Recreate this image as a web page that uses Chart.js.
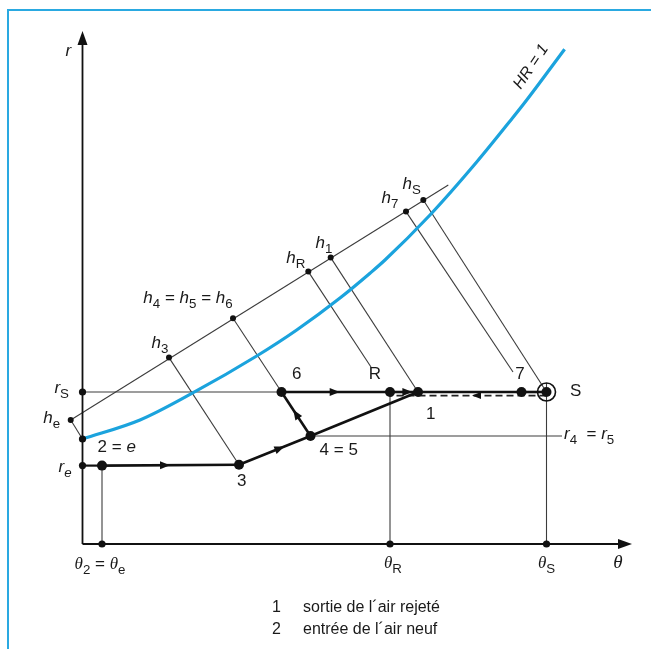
<!DOCTYPE html>
<html>
<head>
<meta charset="utf-8">
<script src="https://cdn.jsdelivr.net/npm/chart.js@4.4.1/dist/chart.umd.min.js"></script>
<style>
  html, body { margin: 0; padding: 0; background: #fff; }
  #wrap { position: relative; width: 651px; height: 649px; overflow: hidden; }
  #frame { position: absolute; left: 7px; top: 9px; width: 700px; height: 700px;
           border-top: 2px solid #2aa9e1; border-left: 2px solid #2aa9e1; }
  canvas { position: absolute; left: 0; top: 0; }
  .note { position: absolute; left: 272px; font: 16px "Liberation Sans", Arial, sans-serif;
          color: #1a1a1a; line-height: 20px; white-space: pre; }
  .note b { font-weight: normal; display: inline-block; width: 31px; }
</style>
</head>
<body>
<div id="wrap">
  <div id="frame"></div>
  <canvas id="diagram" width="651" height="649"></canvas>
  <div class="note" style="top:597px"><b>1</b>sortie de l´air rejeté</div>
  <div class="note" style="top:619px"><b>2</b>entrée de l´air neuf</div>
</div>
<script>
// axis extents (θ horizontal, r vertical)
const thetaMax = 54.95;
const rMax = 25.65;

// process states: e (inlet), 3, 4 = 5, 6, R, 1, 7, S
const stateTheta = [1.95, 15.65, 22.8, 19.9, 30.75, 33.55, 43.9, 46.4];
const stateR = [3.92, 3.96, 5.4, 7.6, 7.6, 7.6, 7.6, 7.6];
const pathPairs = [[0, 1], [1, 2], [2, 3], [3, 4], [4, 5], [5, 6], [6, 7], [2, 5]];
// arrow heads: from state, to state, position along the segment
const pathArrows = [[0, 1, 0.46], [1, 2, 0.57], [2, 3, 0.5], [3, 4, 0.49], [4, 5, 0.62]];

// dashed return line S -> R
const returnR = 7.42;
const returnArrowTheta = 39.4;

// enthalpy scale marks h_e, h_3, h_4, h_R, h_1, h_7, h_S
const hTheta = [-1.18, 8.65, 15.05, 22.58, 24.82, 32.35, 34.08];
const hR = [6.2, 9.32, 11.29, 13.62, 14.32, 16.62, 17.2];
const hScaleEnd = [36.58, 17.95];
// lower end of each isenthalp
const isoTheta = [0, 15.65, 22.8, 28.85, 33.55, 43.05, 46.4];
const isoR = [5.25, 3.96, 5.4, 8.85, 7.6, 8.6, 7.6];

// saturation curve HR = 1
const satTheta = [0, 5.75, 10.98, 17.42, 21.42, 25.75, 28.75, 30.25, 34.75, 39.42, 43.0, 44.42, 48.21];
const satR = [5.25, 6.2, 7.54, 9.4, 10.7, 12.3, 13.54, 14.2, 16.45, 19.1, 21.3, 22.2, 24.74];

// ticks on the axes
const rTicks = [7.6, 5.25, 3.92];        // r_S, 2 = e, r_e
const thetaTicks = [1.95, 30.75, 46.4];  // θ_e, θ_R, θ_S
const thetaDropTop = [3.92, 7.6, 8.05];
const r4LineEnd = 47.95;

const INK = '#111';
const THIN = '#3c3c3c';
const BLUE = '#1ba3dd';
const SANS = '"Liberation Sans", Arial, sans-serif';
const SERIF = '"Liberation Serif", "Times New Roman", serif';

const pt = (t, r) => ({ x: t, y: r });
const state = i => pt(stateTheta[i], stateR[i]);

function lineSet(points, width, color, extra) {
  return Object.assign({
    type: 'line', data: points, borderColor: color, borderWidth: width,
    pointRadius: 0, fill: false, tension: 0, clip: false
  }, extra || {});
}

// labels: text runs [text, style] with i = italic, s = subscript, g = serif
const labels = [
  { runs: [['r', 'i']], t: -1.42, r: 24.7 },
  { runs: [['θ', 'gi']], t: 53.55, r: -0.85, size: 19 },
  { runs: [['HR = 1', 'i']], t: 44.75, r: 23.9, rot: -56, size: 16 },
  { runs: [['h', 'i'], ['S', 's']], t: 32.92, r: 18.04 },
  { runs: [['h', 'i'], ['7', 's']], t: 30.75, r: 17.37 },
  { runs: [['h', 'i'], ['1', 's']], t: 24.15, r: 15.12 },
  { runs: [['h', 'i'], ['R', 's']], t: 21.32, r: 14.37 },
  { runs: [['h', 'i'], ['4', 's'], [' = ', ''], ['h', 'i'], ['5', 's'], [' = ', ''], ['h', 'i'], ['6', 's']], t: 10.55, r: 12.37 },
  { runs: [['h', 'i'], ['3', 's']], t: 7.75, r: 10.12 },
  { runs: [['h', 'i'], ['e', 's']], t: -3.08, r: 6.37 },
  { runs: [['r', 'i'], ['S', 's']], t: -2.08, r: 7.87 },
  { runs: [['2 = ', ''], ['e', 'i']], t: 3.42, r: 4.9 },
  { runs: [['r', 'i'], ['e', 'si']], t: -1.75, r: 3.9 },
  { runs: [['3', '']], t: 15.92, r: 3.2 },
  { runs: [['4 = 5', '']], t: 25.62, r: 4.75 },
  { runs: [['6', '']], t: 21.42, r: 8.54 },
  { runs: [['R', '']], t: 29.25, r: 8.54 },
  { runs: [['1', '']], t: 34.82, r: 6.57 },
  { runs: [['7', '']], t: 43.75, r: 8.54 },
  { runs: [['S', '']], t: 49.32, r: 7.7 },
  { runs: [['r', 'i'], ['4', 's'], ['  = ', ''], ['r', 'i'], ['5', 's']], t: 48.15, r: 5.55, align: 'left' },
  { runs: [['θ', 'gi'], ['2', 's'], [' = ', ''], ['θ', 'gi'], ['e', 's']], t: 1.75, r: -0.94 },
  { runs: [['θ', 'gi'], ['R', 's']], t: 31.05, r: -0.9 },
  { runs: [['θ', 'gi'], ['S', 's']], t: 46.41, r: -0.9 }
];

function runFont(style, size) {
  const sub = style.includes('s');
  const sz = sub ? size * 0.78 : size;
  const fam = style.includes('g') ? SERIF : SANS;
  return (style.includes('i') ? 'italic ' : '') + sz.toFixed(1) + 'px ' + fam;
}

function drawRuns(ctx, runs, cx, cy, size, align) {
  const widths = runs.map(([txt, st]) => { ctx.font = runFont(st, size); return ctx.measureText(txt).width; });
  const total = widths.reduce((a, b) => a + b, 0);
  let xx = align === 'left' ? cx : cx - total / 2;
  const base = cy + size * 0.36;
  ctx.textAlign = 'left';
  ctx.textBaseline = 'alphabetic';
  runs.forEach(([txt, st], k) => {
    ctx.font = runFont(st, size);
    ctx.fillText(txt, xx, st.includes('s') ? base + size * 0.3 : base);
    xx += widths[k];
  });
}

function arrowHead(ctx, x, y, ang, len, half) {
  ctx.save();
  ctx.translate(x, y);
  ctx.rotate(ang);
  ctx.beginPath();
  ctx.moveTo(len / 2, 0);
  ctx.lineTo(-len / 2, -half);
  ctx.lineTo(-len / 2, half);
  ctx.closePath();
  ctx.fill();
  ctx.restore();
}

const sketch = {
  id: 'sketch',
  afterDatasetsDraw(chart) {
    const { ctx, scales: { x, y } } = chart;
    const px = t => x.getPixelForValue(t);
    const py = r => y.getPixelForValue(r);
    ctx.save();
    ctx.fillStyle = INK;

    // axis arrow tips
    arrowHead(ctx, px(0), py(rMax) + 7, -Math.PI / 2, 14, 5);
    arrowHead(ctx, px(thetaMax) - 7, py(0), 0, 14, 5);

    // flow direction along the process path
    pathArrows.forEach(([a, b, f]) => {
      const x0 = px(stateTheta[a]), y0 = py(stateR[a]);
      const x1 = px(stateTheta[b]), y1 = py(stateR[b]);
      arrowHead(ctx, x0 + (x1 - x0) * f, y0 + (y1 - y0) * f, Math.atan2(y1 - y0, x1 - x0), 10, 4);
    });
    arrowHead(ctx, px(returnArrowTheta), py(returnR), Math.PI, 9, 3.5);

    // ring round the supply state
    ctx.strokeStyle = INK;
    ctx.lineWidth = 1.6;
    ctx.beginPath();
    ctx.arc(px(stateTheta[7]), py(stateR[7]), 9, 0, Math.PI * 2);
    ctx.stroke();

    ctx.fillStyle = '#1a1a1a';
    labels.forEach(l => {
      const size = l.size || 17;
      const cx = px(l.t), cy = py(l.r);
      if (l.rot) {
        ctx.save();
        ctx.translate(cx, cy);
        ctx.rotate(l.rot * Math.PI / 180);
        drawRuns(ctx, l.runs, 0, 0, size, 'center');
        ctx.restore();
      } else {
        drawRuns(ctx, l.runs, cx, cy, size, l.align);
      }
    });
    ctx.restore();
  }
};

const datasets = [];

// dots (first dataset is drawn on top)
datasets.push({
  type: 'scatter', clip: false,
  data: stateTheta.map((t, i) => pt(t, stateR[i])),
  pointRadius: 5, pointBackgroundColor: INK, pointBorderWidth: 0
});
datasets.push({
  type: 'scatter', clip: false,
  data: hTheta.map((t, i) => pt(t, hR[i])),
  pointRadius: 3, pointBackgroundColor: INK, pointBorderWidth: 0
});
datasets.push({
  type: 'scatter', clip: false,
  data: rTicks.map(r => pt(0, r)).concat(thetaTicks.map(t => pt(t, 0))),
  pointRadius: 3.6, pointBackgroundColor: INK, pointBorderWidth: 0
});

// process path
pathPairs.forEach(([a, b]) => datasets.push(lineSet([state(a), state(b)], 2.6, INK)));
datasets.push(lineSet([pt(0, stateR[0]), state(0)], 2.2, INK));
datasets.push(lineSet([pt(stateTheta[7], returnR), pt(stateTheta[4], returnR)], 1.6, '#222', { borderDash: [7, 4] }));

// saturation curve
datasets.push(lineSet(satTheta.map((t, i) => pt(t, satR[i])), 3.2, BLUE, { cubicInterpolationMode: 'monotone' }));

// axes
datasets.push(lineSet([pt(0, 0), pt(0, rMax - 0.5)], 1.8, INK));
datasets.push(lineSet([pt(0, 0), pt(thetaMax - 1, 0)], 1.8, INK));

// construction lines
datasets.push(lineSet([pt(hTheta[0], hR[0]), pt(hScaleEnd[0], hScaleEnd[1])], 1.1, THIN));
hTheta.forEach((t, i) => datasets.push(lineSet([pt(t, hR[i]), pt(isoTheta[i], isoR[i])], 1.1, THIN)));
datasets.push(lineSet([pt(0, rTicks[0]), state(7)], 1.1, THIN));
datasets.push(lineSet([state(2), pt(r4LineEnd, stateR[2])], 1.1, THIN));
thetaTicks.forEach((t, i) => datasets.push(lineSet([pt(t, 0), pt(t, thetaDropTop[i])], 1.1, THIN)));

new Chart(document.getElementById('diagram'), {
  type: 'scatter',
  data: { datasets: datasets },
  options: {
    responsive: false,
    animation: false,
    events: [],
    layout: { padding: 0, autoPadding: false },
    plugins: { legend: { display: false }, tooltip: { enabled: false } },
    scales: {
      x: { type: 'linear', display: false, min: -8.25, max: 56.85 },
      y: { type: 'linear', display: false, min: -5.25, max: 27.2 }
    }
  },
  plugins: [sketch]
});
</script>
</body>
</html>
